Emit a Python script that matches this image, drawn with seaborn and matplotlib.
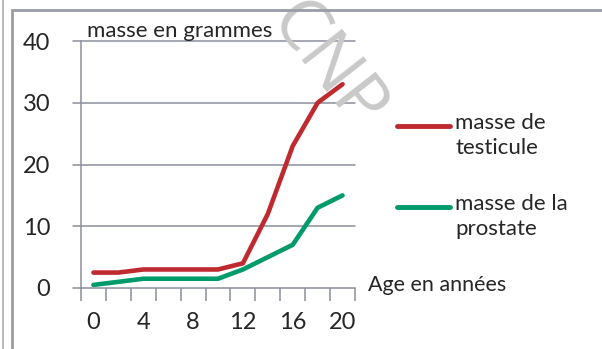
import matplotlib
matplotlib.use("Agg")
import matplotlib.pyplot as plt
import seaborn as sns
import pandas as pd
from matplotlib.lines import Line2D
from matplotlib.patches import Rectangle

# Ages (years) and organ masses (grams)
ages = [0, 2, 4, 6, 8, 10, 12, 14, 16, 18, 20]
testicule = [2.5, 2.5, 3, 3, 3, 3, 4, 12, 23, 30, 33]
prostate = [0.5, 1, 1.5, 1.5, 1.5, 1.5, 3, 5, 7, 13, 15]
series_names = ["masse de\ntesticule", "masse de la\nprostate"]
x_labels = [0, 4, 8, 12, 16, 20]
y_ticks = [0, 10, 20, 30, 40]

RED = "#BE2A2F"
GREEN = "#009A6B"
AXIS_GREY = "#8C909C"
TEXT = "#262626"

sns.set_theme(style="white")
plt.rcParams["font.family"] = ["Lato", "DejaVu Sans"]

df = pd.DataFrame({
    "age": ages * 2,
    "masse": testicule + prostate,
    "serie": [series_names[0]] * len(ages) + [series_names[1]] * len(ages),
})

fig = plt.figure(figsize=(6.02, 3.49), dpi=100)

ax = fig.add_axes([81 / 602, 1 - 288 / 349, 274 / 602, 247 / 349])
ax.patch.set_alpha(0)

sns.lineplot(data=df, x="age", y="masse", hue="serie",
             palette=[RED, GREEN], linewidth=3.3, legend=False, ax=ax,
             solid_capstyle="round")

# watermark: above the grid, below the data lines
ax.text(326 / 602, 1 - 68 / 349, "CNP", transform=fig.transFigure,
        fontsize=52, color="#C9C9C9", family=["Open Sans", "DejaVu Sans"],
        fontweight="normal", rotation=-52, ha="center", va="center", zorder=1.5)

ax.set_xlim(-1, 21)
ax.set_ylim(0, 40)
ax.set_xlabel("")
ax.set_ylabel("")

# horizontal gridlines extend into the y tick marks on the left
for v in y_ticks[1:]:
    ax.plot([-1.65, 21], [v, v], color=AXIS_GREY, lw=1.1, zorder=0, clip_on=False)
ax.plot([-1.65, -1], [0, 0], color=AXIS_GREY, lw=1.1, clip_on=False)

for side in ["top", "right"]:
    ax.spines[side].set_visible(False)
for side in ["left", "bottom"]:
    ax.spines[side].set_color(AXIS_GREY)
    ax.spines[side].set_linewidth(1.1)

# category-style x axis: marks between categories, labels on categories
ax.set_xticks(x_labels)
ax.set_xticklabels([str(v) for v in x_labels], fontsize=17, color=TEXT)
ax.set_xticks([a - 1 for a in ages] + [21], minor=True)
ax.tick_params(axis="x", which="major", length=0, pad=17)
ax.tick_params(axis="x", which="minor", length=9, width=1.1, color=AXIS_GREY,
               direction="out", bottom=True)
ax.set_yticks(y_ticks)
ax.set_yticklabels([str(v) for v in y_ticks], fontsize=17, color=TEXT)
ax.tick_params(axis="y", length=0, pad=22)

fig.text(87 / 602, 1 - 31 / 349, "masse en grammes", fontsize=16,
         color=TEXT, va="center", ha="left")
fig.text(368 / 602, 1 - 285 / 349, "Age en années", fontsize=15.5,
         color=TEXT, va="center", ha="left")

# legend entries
for y, col, name in [(126, RED, series_names[0]), (207, GREEN, series_names[1])]:
    fig.add_artist(Line2D([397 / 602, 450 / 602], [1 - y / 349, 1 - y / 349],
                          color=col, lw=3.5, solid_capstyle="round"))
    fig.text(455 / 602, 1 - (y - 13) / 349, name, fontsize=16, color=TEXT,
             va="top", ha="left", linespacing=1.32)

# chart border
fig.add_artist(Rectangle((12 / 602, -0.2), 1.0, 1 - 10 / 349 + 0.2,
                         transform=fig.transFigure, fill=False,
                         edgecolor="#9A9DA6", lw=2))
fig.add_artist(Line2D([2.5 / 602, 2.5 / 602], [0, 1], color="#B0B0B0", lw=1.2))

fig.savefig("out.png", dpi=100)
